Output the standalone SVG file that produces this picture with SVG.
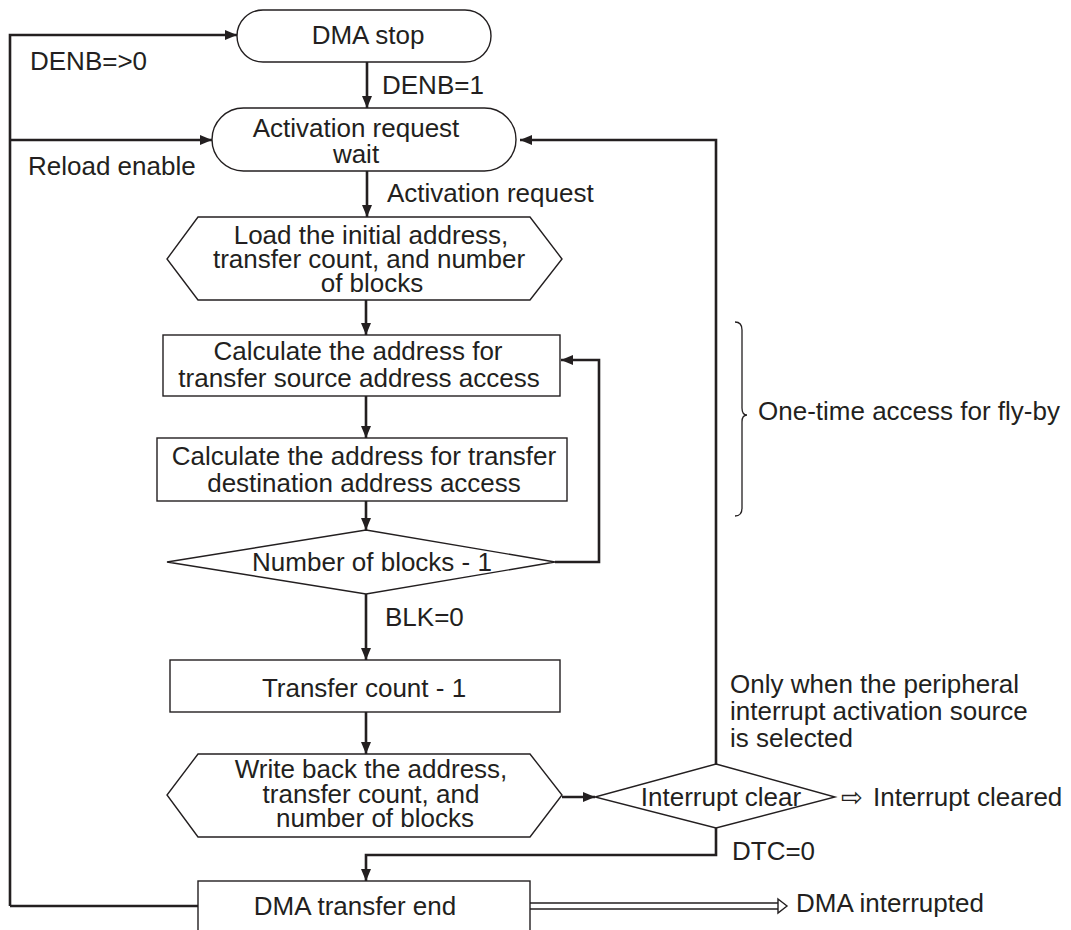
<svg xmlns="http://www.w3.org/2000/svg" width="1071" height="930" viewBox="0 0 1071 930">
<style>
text{font-family:"Liberation Sans",Arial,sans-serif;font-size:26px;fill:#231f20}
.c{text-anchor:middle}
.shape{fill:#fff;stroke:#231f20;stroke-width:1.4}
.ln{fill:none;stroke:#231f20;stroke-width:2.6}
.ah{fill:#231f20;stroke:none}
</style>
<defs>
<marker id="arr" markerWidth="12" markerHeight="10" refX="12" refY="5" orient="auto" markerUnits="userSpaceOnUse">
<path d="M0,0 L12,5 L0,10 Z" class="ah"/>
</marker>
</defs>
<rect width="1071" height="930" fill="#fff"/>

<g id="connectors">
<path class="ln" d="M10,906 L10,35 L237,35" marker-end="url(#arr)"/>
<path class="ln" d="M10,140 L212,140" marker-end="url(#arr)"/>
<path class="ln" d="M367,62 L367,108" marker-end="url(#arr)"/>
<path class="ln" d="M367,171 L367,217" marker-end="url(#arr)"/>
<path class="ln" d="M366,300 L366,335" marker-end="url(#arr)"/>
<path class="ln" d="M366,396 L366,438" marker-end="url(#arr)"/>
<path class="ln" d="M366,501 L366,530" marker-end="url(#arr)"/>
<path class="ln" d="M555,562 L599,562 L599,360 L561,360" marker-end="url(#arr)"/>
<path class="ln" d="M366,594 L366,660" marker-end="url(#arr)"/>
<path class="ln" d="M366,712 L366,754" marker-end="url(#arr)"/>
<path class="ln" d="M562,797 L595,797" marker-end="url(#arr)"/>
<path class="ln" d="M716,764 L716,140 L520,140" marker-end="url(#arr)"/>
<path class="ln" d="M716,828 L716,855 L366,855 L366,881" marker-end="url(#arr)"/>
<path class="ln" d="M10,906 L198,906"/>
<path fill="none" stroke="#231f20" stroke-width="1.4" d="M530,903 L779,903 M530,909 L779,909"/>
<path fill="#fff" stroke="#231f20" stroke-width="1.4" d="M778,899 L787,906 L778,913 Z"/>
<path fill="none" stroke="#231f20" stroke-width="1.3" d="M735,322 Q742,322 742,330 L742,408 Q742,415 747,415 Q742,415 742,422 L742,508 Q742,516 735,516"/>
</g>

<g id="dma-stop">
<rect class="shape" x="237" y="10" width="254" height="52" rx="26" ry="26"/>
<text class="c" x="368" y="44">DMA stop</text>
</g>
<g id="activation-wait">
<rect class="shape" x="212" y="108" width="304" height="63" rx="31.5" ry="31.5"/>
<text class="c" x="356" y="137">Activation request</text>
<text class="c" x="356" y="163">wait</text>
</g>
<g id="load">
<polygon class="shape" points="198,217 530,217 562,259 530,300 198,300 167,259"/>
<text class="c" x="371" y="244">Load the initial address,</text>
<text class="c" x="369" y="268">transfer count, and number</text>
<text class="c" x="372" y="292">of blocks</text>
</g>
<g id="calc-src">
<rect class="shape" x="163" y="335" width="397" height="61"/>
<text class="c" x="358" y="360">Calculate the address for</text>
<text class="c" x="359" y="387">transfer source address access</text>
</g>
<g id="calc-dst">
<rect class="shape" x="157" y="438" width="410" height="63"/>
<text class="c" x="364" y="465">Calculate the address for transfer</text>
<text class="c" x="364" y="492">destination address access</text>
</g>
<g id="blocks">
<polygon class="shape" points="366,530 555,562 366,594 167,562"/>
<text class="c" x="372" y="571">Number of blocks - 1</text>
</g>
<g id="count">
<rect class="shape" x="170" y="660" width="390" height="52"/>
<text class="c" x="364" y="697">Transfer count - 1</text>
</g>
<g id="writeback">
<polygon class="shape" points="198,754 530,754 562,795 530,837 198,837 167,795"/>
<text class="c" x="371" y="778">Write back the address,</text>
<text class="c" x="371" y="803">transfer count, and</text>
<text class="c" x="375" y="827">number of blocks</text>
</g>
<g id="intclear">
<polygon class="shape" points="716,764 835,797 716,828 595,797"/>
<text class="c" x="721" y="806">Interrupt clear</text>
</g>
<g id="end">
<rect class="shape" x="198" y="881" width="332" height="60"/>
<text class="c" x="355" y="915">DMA transfer end</text>
</g>

<g id="labels">
<text x="30" y="70">DENB=&gt;0</text>
<text x="382" y="94">DENB=1</text>
<text x="28" y="175">Reload enable</text>
<text x="387" y="202">Activation request</text>
<text x="385" y="626">BLK=0</text>
<text x="758" y="420">One-time access for fly-by</text>
<text x="730" y="693">Only when the peripheral</text>
<text x="730" y="720">interrupt activation source</text>
<text x="730" y="747">is selected</text>
<text x="841" y="806" style="font-family:'DejaVu Sans',sans-serif;font-size:26px">⇨</text>
<text x="873" y="806">Interrupt cleared</text>
<text x="732" y="860">DTC=0</text>
<text x="796" y="912">DMA interrupted</text>
</g>
</svg>
